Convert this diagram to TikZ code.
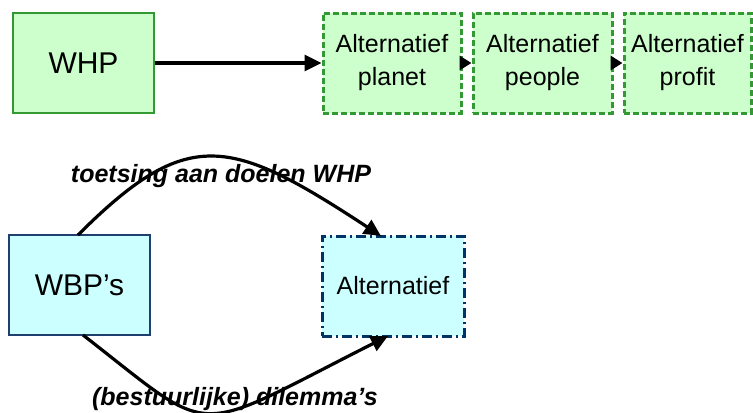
\documentclass[tikz,border=0pt]{standalone}
\usepackage{fontspec}
\setmainfont{Liberation Sans}
\usetikzlibrary{arrows.meta}
\definecolor{boxgreen}{HTML}{CCFFCC}
\definecolor{linegreen}{HTML}{339933}
\definecolor{boxcyan}{HTML}{CCFFFF}
\definecolor{lineblue}{HTML}{003366}
\definecolor{lineblueb}{HTML}{1F3F6F}
\begin{document}
\begin{tikzpicture}[x=1bp,y=-1bp,
  mainbox/.style={rectangle, draw=linegreen, fill=boxgreen, line width=1.5bp, inner sep=0pt,
    minimum width=141bp, minimum height=100bp, font=\fontsize{30bp}{36bp}\selectfont},
  altbox/.style={rectangle, draw=linegreen, fill=boxgreen, line width=3bp, dash pattern=on 6bp off 3bp,
    inner sep=0pt, minimum height=100bp, align=center, font=\fontsize{25bp}{33bp}\selectfont},
  wbpbox/.style={rectangle, draw=lineblueb, fill=boxcyan, line width=1.5bp, inner sep=0pt,
    minimum width=141bp, minimum height=100bp, font=\fontsize{30bp}{36bp}\selectfont},
  altbbox/.style={rectangle, draw=lineblue, fill=boxcyan, line width=3bp,
    dash pattern=on 10bp off 4bp on 2bp off 4bp, inner sep=0pt,
    minimum width=142bp, minimum height=100bp, font=\fontsize{25bp}{30bp}\selectfont},
  flow/.style={line width=3.2bp, -{Triangle[length=17bp,width=16bp]}},
  shortflow/.style={line width=3bp, -{Triangle[length=12bp,width=14bp]}},
  lbl/.style={anchor=base, inner sep=0pt, font=\fontsize{25bp}{30bp}\selectfont\bfseries\itshape}
]
\useasboundingbox (0,0) rectangle (753,412);
% top row
\node[mainbox] (whp) at (83.5,63) {WHP};
\node[altbox, minimum width=138bp] (planet) at (392,63) {Alternatief\\planet};
\node[altbox, minimum width=139bp] (people) at (542.5,63) {Alternatief\\people};
\node[altbox, minimum width=127bp] (profit) at (687.5,63) {Alternatief\\profit};
\draw[flow] (whp.east) -- (planet.west);
\draw[shortflow] (planet.east) -- (people.west);
\draw[shortflow] (people.east) -- (profit.west);
% bottom part
\node[wbpbox] (wbp) at (79.5,285) {WBP’s};
\node[altbbox] (alt) at (393,286) {Alternatief};
\coordinate (ts) at (78,235);
\coordinate (te) at (381,236);
\coordinate (bs) at (83,335);
\coordinate (be) at (388,336);
\draw[flow] (ts) .. controls (188,125) and (230,137) .. (te);
\draw[flow] (bs) .. controls (218,440) and (188,437) .. (be);
\node[lbl] (ltop) at (221,182) {toetsing aan doelen WHP};
\node[lbl] (lbot) at (235,405) {(bestuurlijke) dilemma’s};
\end{tikzpicture}
\end{document}
